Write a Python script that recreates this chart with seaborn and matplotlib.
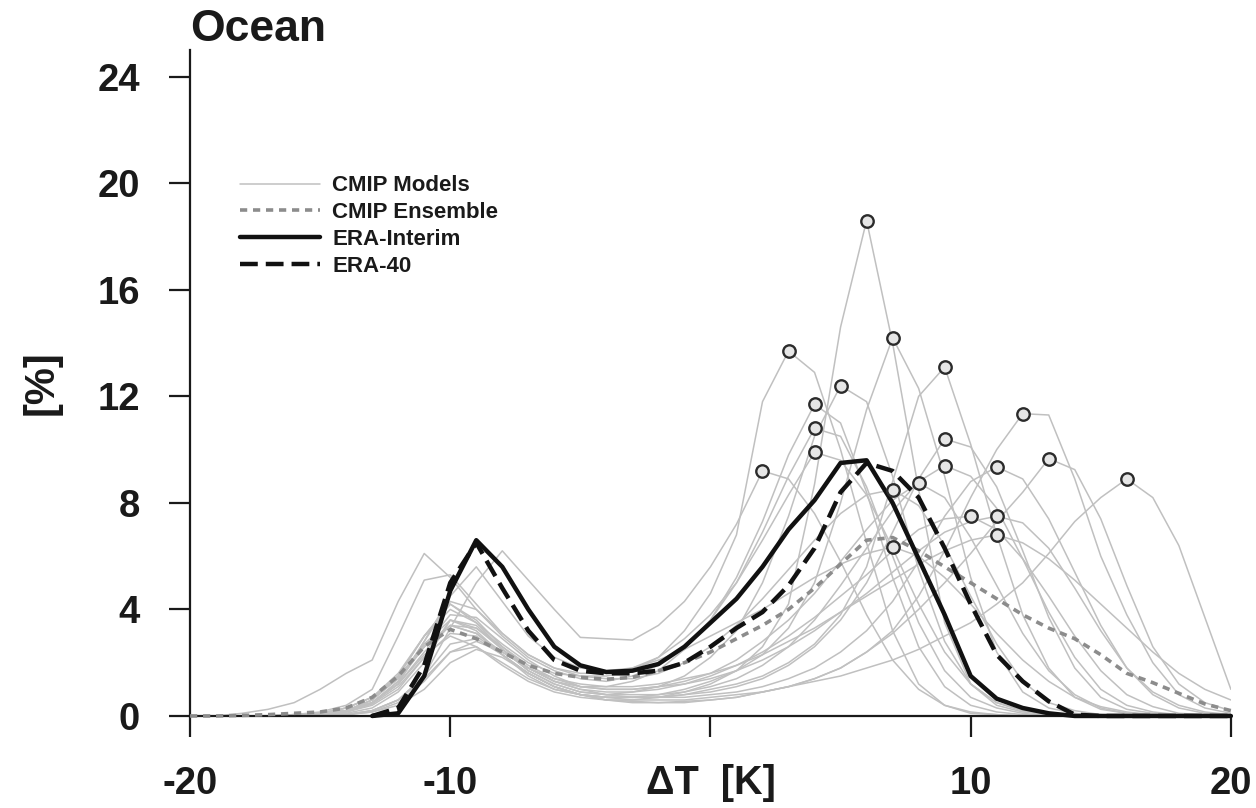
import numpy as np
import pandas as pd
import matplotlib.pyplot as plt
import seaborn as sns
from matplotlib.lines import Line2D

# temperature bins [K]
dT = list(range(-20, 21))

# CMIP models, frequency [%] per 1 K bin (-20 ... 20)
m01 = [0, 0, 0, 0, 0.05, 0.1, 0.2, 0.5, 1.2, 2.3, 3.0, 2.6, 1.9, 1.3, 0.9, 0.7, 0.6, 0.6, 0.7, 0.9,
       1.2, 1.7, 2.6, 4.2, 8.7, 14.6, 18.6, 14.0, 8.5, 3.5, 1.2, 0.4, 0.15, 0.05, 0, 0, 0, 0, 0, 0, 0]
m02 = [0, 0, 0, 0, 0, 0.05, 0.1, 0.3, 0.9, 2.0, 3.6, 3.2, 2.3, 1.5, 1.0, 0.8, 0.7, 0.7, 0.8, 1.0,
       1.3, 1.7, 2.3, 3.3, 5.0, 8.0, 11.5, 14.2, 12.3, 9.0, 5.2, 2.4, 0.9, 0.3, 0.1, 0, 0, 0, 0, 0, 0]
m03 = [0, 0, 0, 0, 0.05, 0.1, 0.3, 0.7, 1.6, 3.0, 4.0, 3.5, 2.7, 2.0, 1.6, 1.5, 1.5, 1.7, 2.2, 3.2,
       4.6, 6.8, 11.8, 13.7, 12.9, 10.0, 6.5, 3.2, 1.2, 0.4, 0.1, 0.05, 0, 0, 0, 0, 0, 0, 0, 0, 0]
m04 = [0, 0, 0, 0, 0, 0, 0.05, 0.2, 0.6, 1.4, 2.4, 2.6, 2.0, 1.4, 1.0, 0.8, 0.7, 0.7, 0.7, 0.8,
       1.0, 1.2, 1.5, 2.0, 2.7, 3.8, 5.6, 8.8, 12.0, 13.1, 10.2, 6.8, 3.8, 1.8, 0.7, 0.25, 0.1, 0, 0, 0, 0]
m05 = [0, 0, 0, 0, 0, 0.05, 0.15, 0.4, 1.0, 2.2, 3.6, 3.4, 2.5, 1.7, 1.2, 0.9, 0.8, 0.9, 1.1, 1.5,
       2.2, 3.2, 5.0, 7.5, 10.5, 12.4, 11.8, 9.0, 5.5, 2.8, 1.2, 0.5, 0.2, 0.05, 0, 0, 0, 0, 0, 0, 0]
m06 = [0, 0, 0, 0, 0, 0.05, 0.2, 0.6, 1.5, 3.0, 4.2, 3.6, 2.6, 1.8, 1.3, 1.1, 1.1, 1.3, 1.7, 2.5,
       3.6, 5.2, 7.3, 9.8, 11.7, 11.0, 8.4, 5.2, 2.6, 1.1, 0.4, 0.15, 0.05, 0, 0, 0, 0, 0, 0, 0, 0]
m07 = [0, 0, 0.1, 0.25, 0.5, 1.0, 1.6, 2.1, 4.3, 6.1, 5.2, 4.0, 3.0, 2.2, 1.7, 1.4, 1.3, 1.5, 1.9, 2.6,
       3.6, 5.0, 6.9, 9.0, 10.8, 10.5, 8.6, 6.0, 3.5, 1.7, 0.7, 0.3, 0.1, 0, 0, 0, 0, 0, 0, 0, 0]
m08 = [0, 0, 0, 0, 0, 0.05, 0.2, 0.5, 1.3, 2.8, 4.3, 4.0, 3.1, 2.3, 1.8, 1.6, 1.6, 1.8, 2.2, 2.9,
       3.8, 5.0, 6.6, 8.3, 9.9, 9.6, 8.3, 6.3, 4.2, 2.4, 1.2, 0.5, 0.2, 0.05, 0, 0, 0, 0, 0, 0, 0]
m09 = [0, 0, 0, 0, 0, 0, 0.05, 0.2, 0.6, 1.5, 2.7, 2.9, 2.3, 1.6, 1.1, 0.8, 0.7, 0.7, 0.7, 0.8,
       0.9, 1.1, 1.4, 1.9, 2.6, 3.6, 5.0, 6.9, 8.9, 10.4, 10.1, 8.6, 6.2, 3.7, 1.8, 0.7, 0.25, 0.1, 0, 0, 0]
m10 = [0, 0, 0, 0, 0, 0.05, 0.2, 0.6, 1.5, 3.0, 4.2, 3.5, 2.5, 1.7, 1.2, 0.9, 0.8, 0.8, 0.8, 0.9,
       1.1, 1.4, 1.9, 2.6, 3.6, 4.9, 6.3, 7.7, 8.8, 9.4, 9.0, 7.8, 5.9, 3.9, 2.2, 1.0, 0.4, 0.15, 0.05, 0, 0]
m11 = [0, 0, 0, 0, 0, 0, 0.05, 0.2, 0.6, 1.5, 3.3, 5.0, 6.2, 5.1, 4.0, 2.95, 2.9, 2.85, 3.4, 4.3,
       5.6, 7.2, 9.2, 8.9, 7.6, 5.8, 3.8, 2.1, 1.0, 0.4, 0.15, 0.05, 0, 0, 0, 0, 0, 0, 0, 0, 0]
m12 = [0, 0, 0, 0, 0.05, 0.15, 0.4, 1.0, 3.0, 5.1, 5.3, 4.2, 3.1, 2.3, 1.8, 1.5, 1.4, 1.4, 1.6, 2.0,
       2.6, 3.4, 4.4, 5.5, 6.6, 7.6, 8.3, 8.5, 7.9, 6.4, 4.5, 2.7, 1.3, 0.5, 0.2, 0.05, 0, 0, 0, 0, 0]
m13 = [0, 0, 0, 0, 0, 0.05, 0.2, 0.5, 1.3, 2.6, 3.8, 3.7, 2.9, 2.1, 1.5, 1.1, 1.0, 1.0, 1.1, 1.3,
       1.6, 2.1, 2.8, 3.6, 4.6, 5.8, 7.0, 8.1, 8.75, 8.2, 6.7, 4.9, 3.1, 1.7, 0.8, 0.3, 0.1, 0.05, 0, 0, 0]
m14 = [0, 0, 0, 0, 0, 0, 0.05, 0.15, 0.5, 1.3, 2.4, 2.8, 2.4, 1.8, 1.3, 1.0, 0.8, 0.7, 0.7, 0.7,
       0.8, 0.9, 1.1, 1.4, 1.8, 2.4, 3.2, 4.3, 5.8, 7.5, 8.8, 9.35, 8.9, 7.4, 5.4, 3.4, 1.8, 0.8, 0.3, 0.1, 0.05]
m15 = [0, 0, 0, 0, 0, 0, 0.05, 0.15, 0.4, 1.0, 2.0, 2.5, 2.2, 1.6, 1.1, 0.8, 0.6, 0.5, 0.5, 0.5,
       0.6, 0.7, 0.9, 1.1, 1.4, 1.8, 2.4, 3.1, 4.0, 5.0, 6.1, 7.3, 8.4, 9.66, 9.25, 7.4, 4.9, 2.6, 1.2, 0.5, 0.2]
m16 = [0, 0, 0, 0, 0, 0.05, 0.2, 0.6, 1.4, 2.7, 3.6, 3.3, 2.5, 1.8, 1.3, 1.0, 0.9, 0.9, 1.0, 1.2,
       1.5, 1.9, 2.4, 3.0, 3.7, 4.5, 5.3, 6.2, 7.0, 7.4, 7.5, 7.0, 5.9, 4.5, 3.0, 1.7, 0.8, 0.35, 0.1, 0.05, 0]
m17 = [0, 0, 0, 0, 0, 0.05, 0.15, 0.5, 1.2, 2.4, 3.4, 3.3, 2.6, 1.9, 1.4, 1.1, 1.0, 1.0, 1.1, 1.2,
       1.4, 1.7, 2.1, 2.6, 3.2, 3.9, 4.6, 5.4, 6.2, 6.9, 7.3, 7.5, 7.25, 6.3, 4.8, 3.2, 1.8, 0.9, 0.4, 0.15, 0.05]
m18 = [0, 0, 0, 0, 0.05, 0.1, 0.3, 0.7, 1.5, 2.6, 3.4, 3.1, 2.4, 1.8, 1.4, 1.2, 1.1, 1.1, 1.2, 1.4,
       1.6, 1.9, 2.3, 2.8, 3.3, 3.9, 4.5, 5.1, 5.7, 6.2, 6.6, 6.8, 6.5, 5.9, 5.1, 4.2, 3.3, 2.4, 1.6, 1.0, 0.6]
m19 = [0, 0, 0, 0, 0, 0.05, 0.2, 0.5, 1.2, 2.8, 4.5, 5.6, 4.3, 3.0, 2.2, 1.8, 1.7, 1.8, 2.1, 2.5,
       3.0, 3.5, 4.0, 4.6, 5.2, 5.7, 6.1, 6.35, 6.0, 5.2, 4.2, 3.1, 2.1, 1.3, 0.7, 0.35, 0.15, 0.05, 0, 0, 0]
m20 = [0, 0, 0, 0, 0, 0.05, 0.15, 0.45, 1.1, 2.2, 3.1, 3.0, 2.3, 1.6, 1.1, 0.8, 0.6, 0.55, 0.5, 0.55,
       0.6, 0.7, 0.9, 1.1, 1.4, 1.8, 2.4, 3.2, 4.5, 6.2, 8.2, 10.0, 11.35, 11.3, 8.9, 6.0, 3.8, 2.0, 0.8, 0.3, 0.1]
m21 = [0, 0, 0, 0, 0.05, 0.1, 0.3, 0.7, 1.4, 2.6, 3.4, 3.1, 2.3, 1.6, 1.1, 0.8, 0.7, 0.6, 0.6, 0.6,
       0.7, 0.8, 0.9, 1.1, 1.3, 1.5, 1.8, 2.1, 2.5, 3.0, 3.5, 4.2, 5.0, 6.1, 7.3, 8.2, 8.9, 8.2, 6.4, 3.7, 1.0]
models = [m01, m02, m03, m04, m05, m06, m07, m08, m09, m10, m11,
          m12, m13, m14, m15, m16, m17, m18, m19, m20, m21]

ensemble = [0, 0, 0.02, 0.05, 0.1, 0.15, 0.3, 0.7, 1.5, 2.6, 3.25, 2.9, 2.4, 1.9, 1.6, 1.45, 1.38, 1.45, 1.7, 2.0,
            2.4, 2.9, 3.4, 4.0, 4.8, 5.7, 6.6, 6.7, 6.2, 5.6, 5.0, 4.4, 3.8, 3.3, 2.9, 2.3, 1.6, 1.25, 0.85, 0.45, 0.2]
nan = np.nan
era_interim = [nan, nan, nan, nan, nan, nan, nan, 0, 0.1, 1.5, 4.7, 6.6, 5.6, 4.0, 2.6, 1.9, 1.65, 1.7, 1.95, 2.6,
               3.5, 4.4, 5.6, 7.0, 8.1, 9.5, 9.6, 8.0, 5.9, 3.8, 1.5, 0.65, 0.3, 0.1, 0, 0, 0, 0, 0, 0, 0]
era_40 = [nan, nan, nan, nan, nan, nan, nan, 0, 0.3, 1.9, 5.0, 6.5, 4.8, 3.2, 2.1, 1.7, 1.6, 1.6, 1.7, 2.0,
          2.6, 3.3, 3.9, 4.9, 6.3, 8.4, 9.5, 9.2, 8.2, 6.3, 4.2, 2.3, 1.3, 0.55, 0.05, 0, 0, 0, 0, 0, 0]

legend_labels = ["CMIP Models", "CMIP Ensemble", "ERA-Interim", "ERA-40"]

sns.set_style("ticks")
plt.rcParams["font.family"] = ["Liberation Sans", "DejaVu Sans"]
plt.rcParams["font.weight"] = "bold"

model_df = pd.DataFrame({
    "dT": np.tile(dT, len(models)),
    "pct": np.concatenate(models),
    "model": np.repeat(np.arange(len(models)), len(dT)),
})
peaks = model_df.loc[model_df.groupby("model")["pct"].idxmax()]

grey = "#c0c0c0"
ens_col = "#8c8c8c"
black = "#111111"
ens_ls = (0, (2.0, 1.6))
era40_ls = (0, (4.0, 1.8))

fig, ax = plt.subplots(figsize=(12.56, 8.08), dpi=100)
fig.subplots_adjust(left=0.1513, right=0.980, bottom=0.1139, top=0.938)

sns.lineplot(data=model_df, x="dT", y="pct", units="model", estimator=None,
             color=grey, linewidth=1.1, ax=ax, zorder=1)
sns.lineplot(x=dT, y=ensemble, color=ens_col, linewidth=2.6, linestyle=ens_ls,
             ax=ax, zorder=3, clip_on=False)
sns.lineplot(x=dT, y=era_40, color=black, linewidth=3.2, linestyle=era40_ls,
             ax=ax, zorder=4, clip_on=False)
sns.lineplot(x=dT, y=era_interim, color=black, linewidth=3.2,
             ax=ax, zorder=4, clip_on=False)
sns.scatterplot(data=peaks, x="dT", y="pct", marker="o", s=80, facecolor="#e6e6e6",
                edgecolor="#2b2b2b", linewidth=1.7, ax=ax, zorder=5)

ax.set_xlim(-20, 20)
ax.set_ylim(0, 25)
ax.set_xticks([-20, -10, 0, 10, 20])
ax.set_xticklabels(["-20", "-10", "", "10", "20"])
ax.set_yticks(range(0, 25, 4))
sns.despine(ax=ax)
for sp in ax.spines.values():
    sp.set_linewidth(1.6)
    sp.set_color("#1a1a1a")
ax.tick_params(length=15, width=1.6, pad=21, labelsize=27.5, colors="#1a1a1a")

ax.set_title("Ocean", loc="left", fontsize=32, fontweight="bold", pad=2, color="#1a1a1a")
ax.set_ylabel("[%]", fontsize=30, fontweight="bold", labelpad=26, color="#1a1a1a")
ax.set_xlabel("\u0394T  [K]", fontsize=28.5, fontweight="bold", color="#1a1a1a")
ax.xaxis.set_label_coords(0.5, -0.072)

handles = [
    Line2D([], [], color=grey, linewidth=1.1),
    Line2D([], [], color=ens_col, linewidth=2.6, linestyle=ens_ls),
    Line2D([], [], color=black, linewidth=3.2),
    Line2D([], [], color=black, linewidth=3.2, linestyle=era40_ls),
]
ax.legend(handles, legend_labels, loc="upper left", bbox_to_anchor=(0.048, 0.812),
          frameon=False, fontsize=16, handlelength=3.6, handletextpad=0.55,
          labelspacing=0.26, borderpad=0, borderaxespad=0, labelcolor="#1a1a1a")

fig.savefig("out.png", dpi=100)
